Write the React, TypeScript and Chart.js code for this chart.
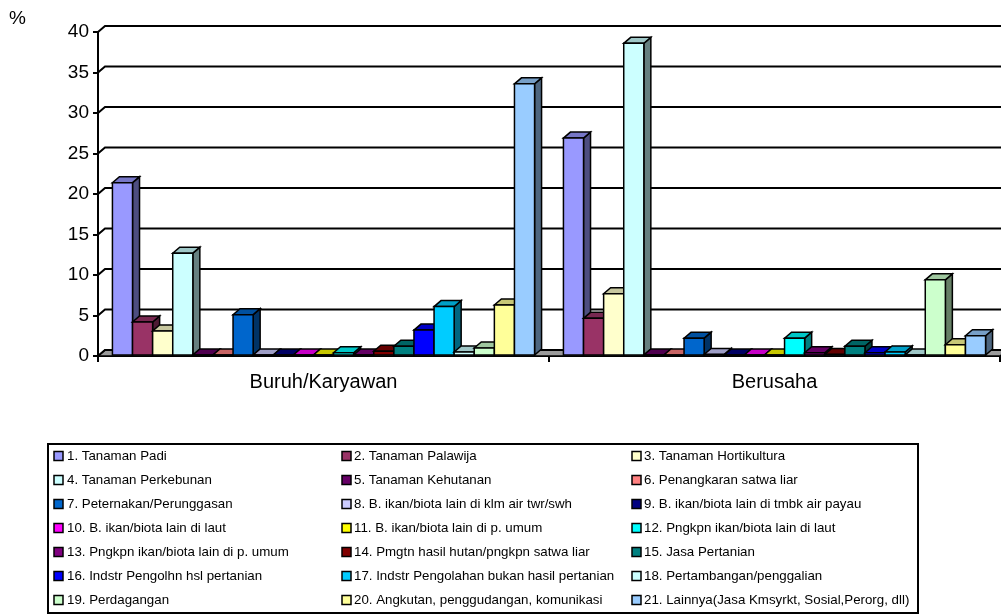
import React, { useEffect, useRef } from "react";
import { Chart, registerables } from "chart.js";

Chart.register(...registerables);

const categories = ["Buruh/Karyawan", "Berusaha"];

const seriesNames = [
  "1. Tanaman Padi",
  "2. Tanaman Palawija",
  "3. Tanaman Hortikultura",
  "4. Tanaman Perkebunan",
  "5. Tanaman Kehutanan",
  "6. Penangkaran satwa liar",
  "7. Peternakan/Perunggasan",
  "8. B. ikan/biota lain di klm air twr/swh",
  "9. B. ikan/biota lain di tmbk air payau",
  "10. B. ikan/biota lain di laut",
  "11. B. ikan/biota lain di p. umum",
  "12. Pngkpn ikan/biota lain di laut",
  "13. Pngkpn ikan/biota lain di p. umum",
  "14. Pmgtn hasil hutan/pngkpn satwa liar",
  "15. Jasa Pertanian",
  "16. Indstr Pengolhn hsl pertanian",
  "17. Indstr Pengolahan bukan hasil pertanian",
  "18. Pertambangan/penggalian",
  "19. Perdagangan",
  "20. Angkutan, penggudangan, komunikasi",
  "21. Lainnya(Jasa Kmsyrkt, Sosial,Perorg, dll)",
];

const buruhValues = [21.4, 4.2, 3.1, 12.7, 0.1, 0.1, 5.1, 0.1, 0.05, 0.05, 0.1, 0.4, 0.1, 0.6, 1.2, 3.2, 6.1, 0.5, 1.0, 6.3, 33.6];
const berusahaValues = [26.9, 4.65, 7.7, 38.6, 0.1, 0.1, 2.2, 0.2, 0.1, 0.1, 0.1, 2.2, 0.4, 0.2, 1.2, 0.4, 0.5, 0.1, 9.4, 1.4, 2.5];

const seriesColors = [
  "#9999FF", "#993366", "#FFFFCC", "#CCFFFF", "#660066", "#FF8080", "#0066CC",
  "#CCCCFF", "#000080", "#FF00FF", "#FFFF00", "#00FFFF", "#800080", "#800000",
  "#008080", "#0000FF", "#00CCFF", "#CCFFFF", "#CCFFCC", "#FFFF99", "#99CCFF",
];

const yTickValues = [0, 5, 10, 15, 20, 25, 30, 35, 40];
const axisUnit = "%";

const DX = 7;
const DY = -6;

function shade(hex: string, f: number): string {
  const n = parseInt(hex.slice(1), 16);
  const r = Math.round(((n >> 16) & 255) * f);
  const g = Math.round(((n >> 8) & 255) * f);
  const b = Math.round((n & 255) * f);
  return `rgb(${r},${g},${b})`;
}

function poly(ctx: CanvasRenderingContext2D, pts: number[][], fill: string) {
  ctx.beginPath();
  ctx.moveTo(pts[0][0], pts[0][1]);
  for (let i = 1; i < pts.length; i++) ctx.lineTo(pts[i][0], pts[i][1]);
  ctx.closePath();
  ctx.fillStyle = fill;
  ctx.fill();
  ctx.stroke();
}

const threeDPlugin = {
  id: "threeD",
  beforeDatasetsDraw(chart: any) {
    const { ctx, chartArea: a, scales } = chart;
    const y = scales.y;
    ctx.save();
    ctx.lineJoin = "miter";
    // floor
    ctx.strokeStyle = "#000";
    ctx.lineWidth = 1.5;
    poly(ctx, [[a.left, a.bottom], [a.right, a.bottom], [a.right + DX, a.bottom + DY], [a.left + DX, a.bottom + DY]], "#9a9a9a");
    // wall gridlines
    ctx.lineWidth = 2;
    ctx.strokeStyle = "#000";
    for (const v of yTickValues) {
      const yy = y.getPixelForValue(v);
      ctx.beginPath();
      ctx.moveTo(a.left, yy);
      ctx.lineTo(a.left + DX, yy + DY);
      ctx.lineTo(chart.width, yy + DY);
      ctx.stroke();
    }
    // bars
    const bars: any[] = [];
    chart.data.datasets.forEach((ds: any, di: number) => {
      const meta = chart.getDatasetMeta(di);
      meta.data.forEach((el: any) => {
        const p = el.getProps(["x", "y", "base", "width"], true);
        bars.push({ ...p, color: ds.backgroundColor });
      });
    });
    bars.sort((p, q) => p.x - q.x);
    ctx.lineWidth = 1.5;
    ctx.strokeStyle = "#000";
    for (const b of bars) {
      const l = b.x - b.width / 2;
      const r = b.x + b.width / 2;
      const t = Math.min(b.y, b.base);
      const bot = b.base;
      poly(ctx, [[r, t], [r + DX, t + DY], [r + DX, bot + DY], [r, bot]], shade(b.color, 0.5));
      poly(ctx, [[l, t], [r, t], [r + DX, t + DY], [l + DX, t + DY]], shade(b.color, 0.78));
      poly(ctx, [[l, t], [r, t], [r, bot], [l, bot]], b.color);
    }
    ctx.restore();
    return false;
  },
  afterDraw(chart: any) {
    const { ctx } = chart;
    ctx.save();
    // unit label
    ctx.fillStyle = "#000";
    ctx.font = "19px 'Liberation Sans', Arial, sans-serif";
    ctx.textBaseline = "middle";
    ctx.textAlign = "left";
    ctx.fillText(axisUnit, 9, 19);
    // legend
    ctx.lineWidth = 2;
    ctx.strokeStyle = "#000";
    ctx.strokeRect(48, 444, 870, 169);
    const colMarker = [54, 342, 632];
    const colText = [67, 354, 644];
    ctx.font = "13.3px 'Liberation Sans', Arial, sans-serif";
    ctx.lineWidth = 1.5;
    seriesNames.forEach((name, i) => {
      const row = Math.floor(i / 3);
      const col = i % 3;
      const cy = 456 + row * 24;
      ctx.fillStyle = seriesColors[i];
      ctx.fillRect(colMarker[col], cy - 4.5, 9, 9);
      ctx.strokeRect(colMarker[col], cy - 4.5, 9, 9);
      ctx.fillStyle = "#000";
      ctx.fillText(name, colText[col], cy + 0.5);
    });
    ctx.restore();
  },
};

export default function App() {
  const ref = useRef<HTMLCanvasElement | null>(null);
  useEffect(() => {
    if (!ref.current) return;
    const datasets = seriesNames.map((name, i) => ({
      label: name,
      data: [buruhValues[i], berusahaValues[i]],
      backgroundColor: seriesColors[i],
      borderColor: "#000",
      borderWidth: 1.5,
      categoryPercentage: 0.936,
      barPercentage: 1,
    }));
    const chart = new Chart(ref.current, {
      type: "bar",
      data: { labels: categories, datasets },
      options: {
        animation: false,
        responsive: false,
        devicePixelRatio: 1,
        layout: { padding: { top: 32, right: 1, left: 0, bottom: 0 } },
        plugins: { legend: { display: false }, tooltip: { enabled: false }, title: { display: false } },
        scales: {
          x: {
            afterFit: (s: any) => { s.height = 260; },
            grid: { display: true, drawOnChartArea: false, drawTicks: true, tickLength: 6, color: "#000", lineWidth: 2, offset: true },
            border: { display: true, color: "#000", width: 2 },
            ticks: { color: "#000", font: { family: "'Liberation Sans', Arial, sans-serif", size: 20 }, padding: 8 },
          },
          y: {
            min: 0,
            max: 40,
            afterFit: (s: any) => { s.width = 98; },
            afterBuildTicks: (s: any) => { s.ticks = yTickValues.map((v) => ({ value: v })); },
            grid: { display: true, drawOnChartArea: false, drawTicks: true, tickLength: 5, color: "#000", lineWidth: 2 },
            border: { display: true, color: "#000", width: 2 },
            ticks: { color: "#000", font: { family: "'Liberation Sans', Arial, sans-serif", size: 19 }, padding: 4 },
          },
        },
      },
      plugins: [threeDPlugin],
    });
    return () => chart.destroy();
  }, []);
  return (
    <div style={{ position: "fixed", left: 0, top: 0, width: 1001, height: 616, background: "#fff" }}>
      <canvas ref={ref} width={1001} height={616} />
    </div>
  );
}
